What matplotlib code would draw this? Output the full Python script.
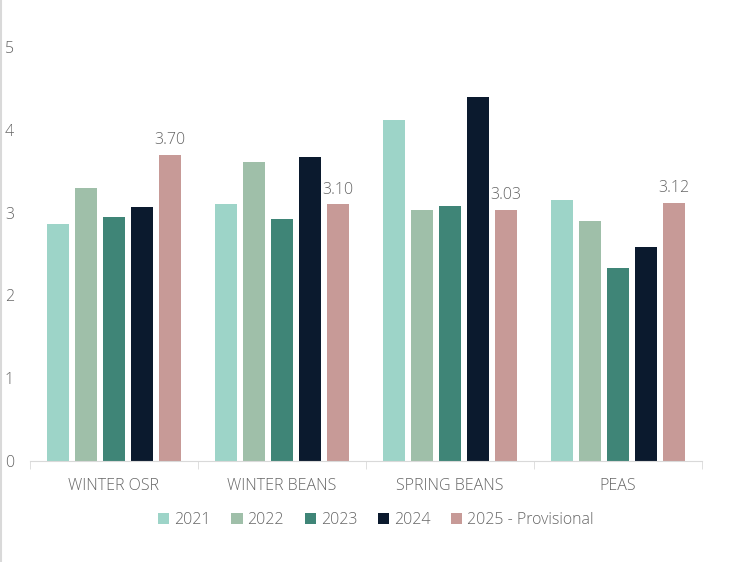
import matplotlib.pyplot as plt
import numpy as np
from matplotlib.lines import Line2D

plt.rcParams['font.family'] = ['Open Sans', 'DejaVu Sans']
plt.rcParams['font.weight'] = 'light'

crops = ['WINTER OSR', 'WINTER BEANS', 'SPRING BEANS', 'PEAS']
years = ['2021', '2022', '2023', '2024', '2025 - Provisional']
v2021 = [2.86, 3.10, 4.12, 3.15]
v2022 = [3.30, 3.61, 3.03, 2.90]
v2023 = [2.95, 2.92, 3.08, 2.33]
v2024 = [3.07, 3.67, 4.40, 2.58]
v2025 = [3.70, 3.10, 3.03, 3.12]
colors = ['#9dd4c8', '#9fbfa9', '#3f8577', '#0b1a2e', '#c79a97']
txt = '#666666'

fig = plt.figure(figsize=(7.31, 5.62), dpi=100)
ax = fig.add_axes([30/731, 1-461/562, 672/731, 414/562])

x = np.arange(len(crops))
step = 0.167
width = 0.131
series = [v2021, v2022, v2023, v2024, v2025]
for i, vals in enumerate(series):
    bars = ax.bar(x + (i-2)*step, vals, width, color=colors[i], label=years[i])
    if i == 4:
        for b, v in zip(bars, vals):
            ax.text(b.get_x() + b.get_width()/2, v + 0.08, '%.2f' % v,
                    ha='center', va='bottom', fontsize=11.5, color=txt)

ax.set_xlim(-0.5, len(crops)-0.5)
ax.set_ylim(0, 5)
ax.set_yticks(range(6))
for s in ['top', 'right', 'left']:
    ax.spines[s].set_visible(False)
ax.spines['bottom'].set_color('#d9d9d9')
ax.set_xticks(x)
ax.set_xticklabels(crops, fontsize=11.5, color=txt)
ax.tick_params(axis='x', length=0, pad=12)
ax.set_xticks(np.arange(len(crops)+1) - 0.5, minor=True)
ax.tick_params(axis='x', which='minor', length=6, color='#d9d9d9')
ax.tick_params(axis='y', length=0, labelsize=11.5, labelcolor=txt)
for lab in ax.get_yticklabels():
    lab.set_horizontalalignment('left')
ax.tick_params(axis='y', pad=18)

ax.legend(loc='upper center', bbox_to_anchor=(0.515, -0.088), ncol=5, frameon=False,
          fontsize=11.5, labelcolor=txt, handlelength=0.7, handleheight=0.7,
          handletextpad=0.3, columnspacing=1.3)

fig.add_artist(Line2D([0.002, 0.002], [0, 1], color='#d9d9d9', lw=1.5))

fig.savefig('out.png', dpi=100)
